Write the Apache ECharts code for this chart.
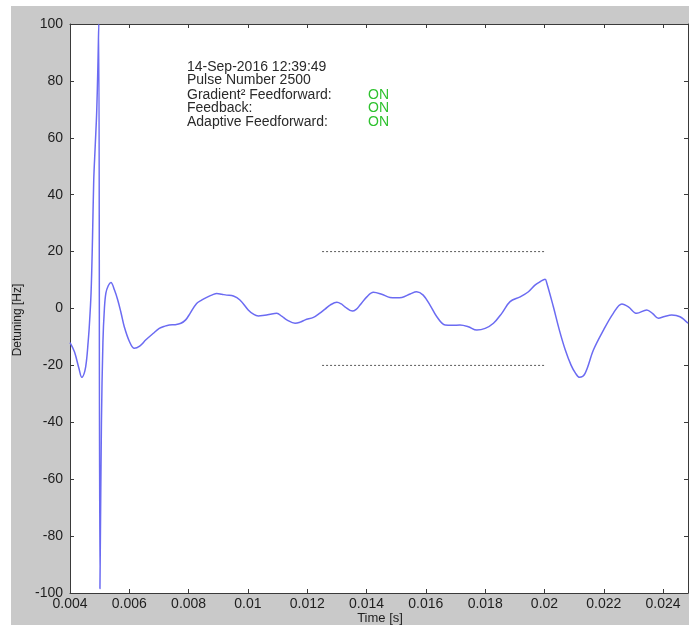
<!DOCTYPE html>
<html>
<head>
<meta charset="utf-8">
<script src="https://cdn.jsdelivr.net/npm/echarts@6/dist/echarts.min.js"></script>
<style>
  html, body { margin: 0; padding: 0; background: #fff; }
  #chart { width: 689px; height: 627px; }
</style>
</head>
<body>
<div id="chart"></div>
<script>
// Cavity detuning trace for one RF pulse
const timeS = [
  0.00400, 0.00415, 0.00430, 0.00440, 0.00450, 0.00456, 0.00461, 0.00465, 0.00471, 0.00476,
  0.00480, 0.00485, 0.00490, 0.00494, 0.00497, 0.00501, 0.00506, 0.00511, 0.00516, 0.00521,
  0.00529, 0.00538, 0.00550, 0.00561, 0.00572, 0.00583, 0.00600, 0.00617, 0.00635, 0.00656,
  0.00680, 0.00701, 0.00720, 0.00735, 0.00755, 0.00774, 0.00790, 0.00805, 0.00827, 0.00845,
  0.00861, 0.00880, 0.00895, 0.00912, 0.00928, 0.00951, 0.00973, 0.01001, 0.01020, 0.01035,
  0.01050, 0.01063, 0.01080, 0.01097, 0.01115, 0.01131, 0.01159, 0.01176, 0.01193, 0.01221,
  0.01240, 0.01260, 0.01277, 0.01300, 0.01315, 0.01327, 0.01352, 0.01365, 0.01378, 0.01401,
  0.01423, 0.01451, 0.01479, 0.01500, 0.01519, 0.01547, 0.01569, 0.01591, 0.01614, 0.01637,
  0.01665, 0.01690, 0.01715, 0.01743, 0.01772, 0.01800, 0.01828, 0.01856, 0.01884, 0.01918,
  0.01946, 0.01969, 0.01985, 0.02002, 0.02008, 0.02030, 0.02050, 0.02070, 0.02090, 0.02105,
  0.02118, 0.02137, 0.02165, 0.02199, 0.02232, 0.02261, 0.02283, 0.02311, 0.02345, 0.02365,
  0.02384, 0.02405, 0.02429, 0.02457, 0.02484
];
const detuningHz = [
  -12.0, -15.2, -21.0, -24.2, -22.0, -18.0, -12.0, -6.4, 5.4, 25.0,
  45.0, 57.0, 69.0, 85.0, 100.0, -98.5, -40.0, -12.0, 0.0, 5.4,
  8.0, 9.1, 6.5, 3.0, -1.5, -6.4, -11.5, -14.0, -13.2, -11.0,
  -8.8, -7.0, -6.2, -5.8, -5.7, -5.2, -4.0, -1.7, 1.8, 3.0,
  3.9, 4.8, 5.3, 5.0, 4.7, 4.4, 3.0, -0.5, -2.1, -2.6,
  -2.5, -2.3, -1.9, -1.7, -2.8, -4.0, -5.2, -4.8, -4.0, -3.1,
  -1.8, -0.2, 1.2, 2.2, 1.6, 0.6, -0.9, -0.3, 1.2, 4.1,
  5.7, 5.0, 3.9, 3.8, 3.9, 5.1, 5.9, 4.7, 1.2, -2.9,
  -5.8, -5.9, -5.8, -6.4, -7.6, -7.0, -5.2, -1.7, 2.4, 4.1,
  5.9, 8.3, 9.4, 10.3, 8.9, 0.6, -7.5, -14.5, -20.0, -22.8,
  -24.2, -22.8, -14.6, -7.6, -1.7, 1.6, 0.6, -1.7, -0.5, -1.8,
  -3.4, -2.8, -2.3, -2.9, -5.2
];

// Tolerance band (+/- limit) shown over the flat-top window
const bandLimitsHz = [20, -20];
const bandWindowS = [0.0125, 0.0200];

// Axis ticks
const xTickLabels = ['0.004', '0.006', '0.008', '0.01', '0.012', '0.014', '0.016', '0.018', '0.02', '0.022', '0.024'];
const yTickLabels = ['-100', '-80', '-60', '-40', '-20', '0', '20', '40', '60', '80', '100'];

// Status block
const infoLines = ['14-Sep-2016 12:39:49', 'Pulse Number 2500', 'Gradient\u00b2 Feedforward:', 'Feedback:', 'Adaptive Feedforward:'];
const infoStates = ['', '', 'ON', 'ON', 'ON'];

const X_MIN = 0.004, X_MAX = 0.02484, X_STEP = 0.002;
const Y_MIN = -100, Y_MAX = 100, Y_STEP = 20;

const FONT = '"Liberation Sans", Arial, sans-serif';
const AXIS_COLOR = '#3a3a3a';
const LABEL_COLOR = '#1e1e1e';

function xLabel(v) {
  const i = Math.round((v - X_MIN) / X_STEP);
  if (Math.abs(X_MIN + i * X_STEP - v) > 1e-7) return '';
  return xTickLabels[i] || '';
}
function yLabel(v) {
  const i = Math.round((v - Y_MIN) / Y_STEP);
  return yTickLabels[i] || '';
}

const chart = echarts.init(document.getElementById('chart'), null, { renderer: 'canvas' });

const trace = timeS.map((t, i) => [t, detuningHz[i]]);
const bandSeries = bandLimitsHz.map(lim => ({
  type: 'line',
  data: [[bandWindowS[0], lim], [bandWindowS[1], lim]],
  symbol: 'none',
  silent: true,
  lineStyle: { color: '#5a5a5a', width: 1, type: [2, 2] },
  z: 3
}));

const textGraphics = [];
const infoY = [67, 80, 95, 108, 122];
infoLines.forEach((line, i) => {
  textGraphics.push({
    type: 'text', x: 187, y: infoY[i], z: 10,
    style: { text: line, font: '14px ' + FONT, fill: '#2a2a2a', verticalAlign: 'middle' }
  });
  if (infoStates[i]) {
    textGraphics.push({
      type: 'text', x: 368, y: infoY[i], z: 10,
      style: { text: infoStates[i], font: '14px ' + FONT, fill: '#2fc22f', verticalAlign: 'middle' }
    });
  }
});

// Axis titles
textGraphics.push({
  type: 'text', x: 18, y: 320, rotation: Math.PI / 2, z: 10,
  style: { text: 'Detuning [Hz]', font: '12px ' + FONT, fill: LABEL_COLOR, align: 'center', verticalAlign: 'middle' }
});
textGraphics.push({
  type: 'text', x: 380, y: 618, z: 10,
  style: { text: 'Time [s]', font: '13px ' + FONT, fill: LABEL_COLOR, align: 'center', verticalAlign: 'middle' }
});

const axisCommon = {
  type: 'value',
  splitLine: { show: false },
  axisLine: { show: true, onZero: false, lineStyle: { color: AXIS_COLOR, width: 1 } },
  axisTick: { show: true, inside: true, length: 4, lineStyle: { color: AXIS_COLOR } }
};

chart.setOption({
  animation: false,
  backgroundColor: '#ffffff',
  graphic: [
    { type: 'rect', z: -10, shape: { x: 11, y: 6, width: 678, height: 619 }, style: { fill: '#c9c9c9' } },
    ...textGraphics
  ],
  grid: {
    left: 70, top: 24, width: 618, height: 569,
    containLabel: false,
    outerBoundsMode: 'none',
    show: true, backgroundColor: '#ffffff', borderWidth: 0
  },
  xAxis: [
    Object.assign({}, axisCommon, {
      position: 'bottom', min: X_MIN, max: X_MAX, interval: X_STEP,
      axisLabel: { formatter: xLabel, showMaxLabel: false, margin: 4, fontFamily: FONT, fontSize: 14, color: LABEL_COLOR }
    }),
    Object.assign({}, axisCommon, {
      position: 'top', min: X_MIN, max: X_MAX, interval: X_STEP,
      axisLabel: { show: false }
    })
  ],
  yAxis: [
    Object.assign({}, axisCommon, {
      position: 'left', min: Y_MIN, max: Y_MAX, interval: Y_STEP,
      axisLabel: { formatter: yLabel, margin: 7, fontFamily: FONT, fontSize: 14, color: LABEL_COLOR }
    }),
    Object.assign({}, axisCommon, {
      position: 'right', min: Y_MIN, max: Y_MAX, interval: Y_STEP,
      axisLabel: { show: false }
    })
  ],
  series: [
    {
      type: 'line',
      data: trace,
      symbol: 'none',
      smooth: 0.35,
      clip: true,
      lineStyle: { color: '#6b6bf2', width: 1.5 },
      z: 4
    },
    ...bandSeries
  ]
});
</script>
</body>
</html>
